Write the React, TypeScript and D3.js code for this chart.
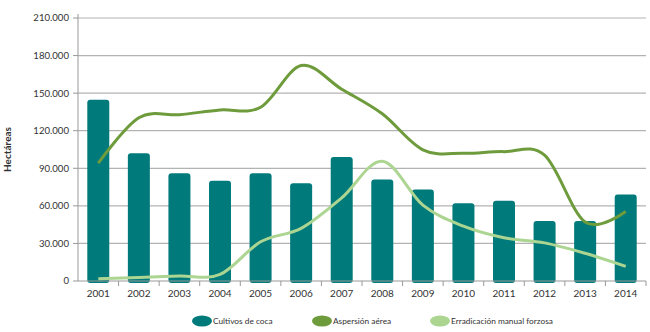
import React from "react";
import * as d3 from "d3";

const years = ["2001","2002","2003","2004","2005","2006","2007","2008","2009","2010","2011","2012","2013","2014"];
const cultivos = [144800, 102000, 86000, 80000, 86000, 78000, 99000, 81000, 73000, 62000, 64000, 48000, 48000, 69000];
const aspersion = [94153, 130364, 132817, 136551, 138775, 172025, 153134, 133496, 104772, 101940, 103302, 100549, 47052, 55554];
const manual = [1745, 2762, 4000, 5200, 31285, 42000, 66396, 95634, 60565, 43804, 34592, 30456, 22121, 11703];
const yTicks = [0, 30000, 60000, 90000, 120000, 150000, 180000, 210000];

const W = 650, H = 332;
const left = 78, right = 646, top = 18, bottom = 281;
const font = "Lato, 'Open Sans', sans-serif";

export default function App() {
  const x = d3.scaleBand<string>().domain(years).range([left, right]);
  const y = d3.scaleLinear().domain([0, 210000]).range([bottom, top]);
  const fmt = (v: number) => v === 0 ? "0" : d3.format(",")(v).replace(/,/g, ".");
  const line = d3.line<number>()
    .x((_, i) => (x(years[i]) as number) + x.bandwidth() / 2)
    .y(d => y(d))
    .curve(d3.curveCatmullRom.alpha(0));
  const bw = 22;
  return (
    <svg width={W} height={H} style={{ position: "absolute", left: 0, top: 0 }} fontFamily={font}>
      <rect width={W} height={H} fill="#fff" />
      {yTicks.map(t => (
        <g key={t}>
          {t > 0 && <line x1={left} x2={right} y1={y(t)} y2={y(t)} stroke="#b3b3b3" strokeWidth={1.2} />}
          <line x1={left - 5} x2={left} y1={y(t)} y2={y(t)} stroke="#999" />
          <text x={left - 9} y={y(t)} dy="0.35em" textAnchor="end" fontSize={9.6} fill="#333">{fmt(t)}</text>
        </g>
      ))}
      <line x1={left} x2={left} y1={top - 4} y2={bottom} stroke="#999" />
      <text transform={`translate(11,${(top + bottom) / 2}) rotate(-90)`} textAnchor="middle" fontSize={10} fontWeight="bold" fill="#333">Hectáreas</text>
      {cultivos.map((v, i) => (
        <rect key={i} x={(x(years[i]) as number) + x.bandwidth() / 2 - bw / 2} y={y(v)} width={bw} height={bottom - y(v) + 2} rx={3} fill="#007a7b" />
      ))}
      <line x1={left} x2={right} y1={bottom} y2={bottom} stroke="#999" />
      {years.map((yr, i) => (
        <g key={yr}>
          <line x1={(x(yr) as number) + x.bandwidth()} x2={(x(yr) as number) + x.bandwidth()} y1={bottom} y2={bottom + 5} stroke="#999" />
          <text x={(x(yr) as number) + x.bandwidth() / 2} y={bottom + 16} textAnchor="middle" fontSize={10} fill="#333">{yr}</text>
        </g>
      ))}
      <path d={line(aspersion) || ""} fill="none" stroke="#6e9b3b" strokeWidth={3} />
      <path d={line(manual) || ""} fill="none" stroke="#acd592" strokeWidth={3} />
      {[
        { label: "Cultivos de coca", color: "#007a7b", sx: 192 },
        { label: "Aspersión aérea", color: "#6e9b3b", sx: 312 },
        { label: "Erradicación manual forzosa", color: "#acd592", sx: 430 },
      ].map(l => (
        <g key={l.label}>
          <ellipse cx={l.sx + 10} cy={321} rx={10} ry={5.5} fill={l.color} />
          <text x={l.sx + 21} y={321} dy="0.35em" fontSize={8.3} fill="#333">{l.label}</text>
        </g>
      ))}
    </svg>
  );
}
